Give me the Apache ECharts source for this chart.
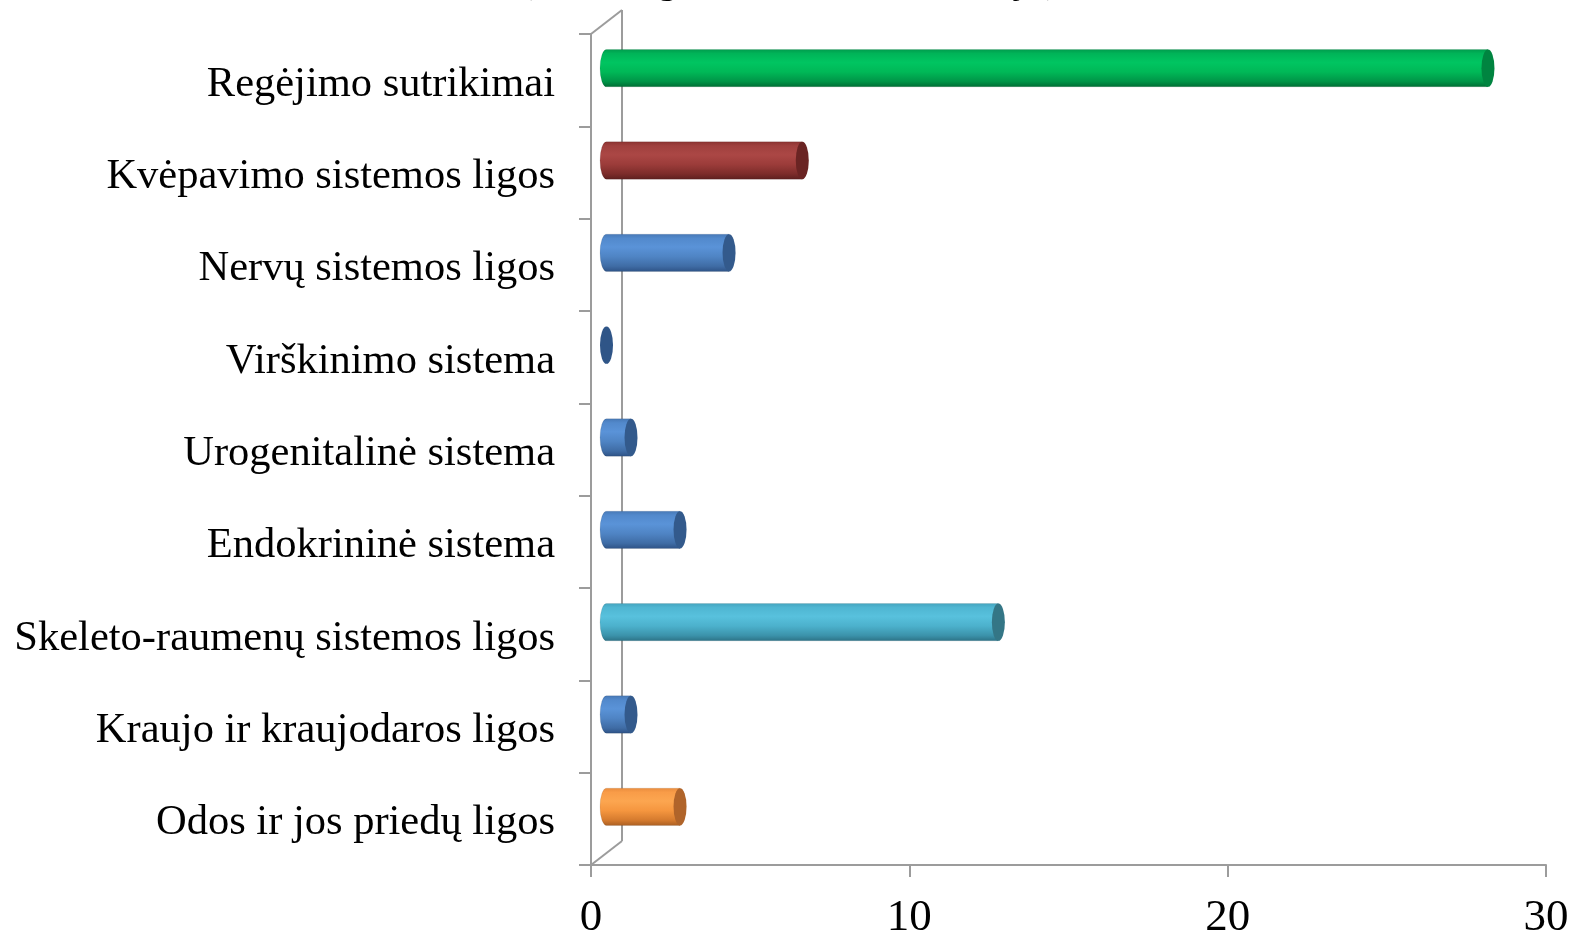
<!DOCTYPE html>
<html>
<head>
<meta charset="utf-8">
<script src="https://cdn.jsdelivr.net/npm/echarts@6/dist/echarts.min.js"></script>
<style>
html,body{margin:0;padding:0;background:#fff;}
#chart{width:1579px;height:932px;}
</style>
</head>
<body>
<div id="chart"></div>
<script>
// ---- data ----
const categories = [
  'Regėjimo sutrikimai',
  'Kvėpavimo sistemos ligos',
  'Nervų sistemos ligos',
  'Virškinimo sistema',
  'Urogenitalinė sistema',
  'Endokrininė sistema',
  'Skeleto-raumenų sistemos ligos',
  'Kraujo ir kraujodaros ligos',
  'Odos ir jos priedų ligos'
];
const values = [27.69, 6.15, 3.85, 0, 0.77, 2.31, 12.31, 0.77, 2.31];
const xTicks = [0, 10, 20, 30];
const titleText = '(vaikų ligos ir sutrikimai, atvejų)';

// ---- styles ----
const palettes = {
  green:  {stops:['#009a4c','#00b458','#00c561','#00b857','#009447','#006a32'], cap:'#008440'},
  red:    {stops:['#8a3230','#a0403e','#ab4745','#9c3c3a','#7c2c2a','#5c1f1e'], cap:'#6a2423'},
  blue:   {stops:['#4677b4','#5289cc','#5a93d8','#4f84c4','#3f6ca5','#2d5184'], cap:'#335a8c'},
  dblue:  {stops:['#2f5587','#2f5587','#2f5587','#2f5587','#2f5587','#2f5587'], cap:'#2f5587'},
  cyan:   {stops:['#43a3bd','#4fb6d2','#58c1dd','#4cb1cc','#3b92aa','#2b7084'], cap:'#347686'},
  orange: {stops:['#e88a3c','#f99c48','#fca650','#f5963f','#d47a2e','#a85d22'], cap:'#b0642a'}
};
const barPalette = ['green','red','blue','dblue','blue','blue','cyan','blue','orange'];

const W = 1579, H = 932;
const GRID = {left: 591, right: 33, top: 34, bottom: 67};
const DEPTH = {x: 31, y: 24};
const AXIS_COLOR = '#9c9c9c';
const SERIF = '"Liberation Serif", "Times New Roman", serif';

function grad(p) {
  const s = p.stops;
  return new echarts.graphic.LinearGradient(0, 0, 0, 1, [
    {offset: 0, color: s[0]}, {offset: 0.12, color: s[1]}, {offset: 0.35, color: s[2]},
    {offset: 0.6, color: s[3]}, {offset: 0.85, color: s[4]}, {offset: 1, color: s[5]}
  ]);
}

function renderItem(params, api) {
  const i = params.dataIndex;
  const v = api.value(0);
  const cat = api.value(1);
  const p0 = api.coord([0, cat]);
  const p1 = api.coord([v, cat]);
  const band = api.size([0, 1])[1];
  const h = band * 0.405;
  const dx = DEPTH.x / 2, dy = DEPTH.y / 2;
  const x0 = p0[0] + dx, x1 = p1[0] + dx, cy = p0[1] - dy;
  const rx = 6.5, ry = h / 2;
  const top = cy - ry, bot = cy + ry;
  const pal = palettes[barPalette[i]];
  const body = 'M' + x0 + ' ' + top + ' L' + x1 + ' ' + top + ' L' + x1 + ' ' + bot +
    ' L' + x0 + ' ' + bot + ' A' + rx + ' ' + ry + ' 0 0 1 ' + x0 + ' ' + top + ' Z';
  const cap = 'M' + (x1 - rx) + ' ' + cy + ' A' + rx + ' ' + ry + ' 0 1 0 ' + (x1 + rx) + ' ' + cy +
    ' A' + rx + ' ' + ry + ' 0 1 0 ' + (x1 - rx) + ' ' + cy + ' Z';
  const children = [];
  if (x1 - x0 > 0.5) {
    children.push({type: 'path', shape: {pathData: body}, style: {fill: grad(pal), stroke: 'rgba(0,0,0,0.08)', lineWidth: 1}});
  }
  children.push({type: 'path', shape: {pathData: cap}, style: {fill: pal.cap}});
  return {type: 'group', children: children};
}

const chart = echarts.init(document.getElementById('chart'), null, {renderer: 'canvas'});
const x0 = GRID.left, yTop = GRID.top, yBot = H - GRID.bottom;

chart.setOption({
  backgroundColor: '#fff',
  animation: false,
  title: {
    text: titleText, left: 'center', top: -44,
    textStyle: {fontFamily: SERIF, fontSize: 41, fontWeight: 'normal', color: '#000'}
  },
  grid: {left: GRID.left, right: GRID.right, top: GRID.top, bottom: GRID.bottom, containLabel: false, outerBoundsMode: 'none'},
  xAxis: {
    type: 'value', min: xTicks[0], max: xTicks[xTicks.length - 1], interval: 10,
    axisLine: {show: true, lineStyle: {color: AXIS_COLOR, width: 2}},
    axisTick: {show: true, length: 12, lineStyle: {color: AXIS_COLOR, width: 2}},
    splitLine: {show: false},
    axisLabel: {fontFamily: SERIF, fontSize: 45, color: '#000', margin: 31}
  },
  yAxis: {
    type: 'category', data: categories, inverse: true,
    axisLine: {show: true, lineStyle: {color: AXIS_COLOR, width: 2}},
    axisTick: {show: true, length: 12, lineStyle: {color: AXIS_COLOR, width: 2}},
    splitLine: {show: false},
    axisLabel: {
      margin: 36,
      formatter: function (v) { return '{c|' + v + '}'; },
      rich: {c: {fontFamily: SERIF, fontSize: 42.5, color: '#000', lineHeight: 50, padding: [9, 0, 0, 0]}}
    }
  },
  graphic: [
    {type: 'line', z: 1, shape: {x1: x0 + DEPTH.x, y1: yTop - DEPTH.y, x2: x0 + DEPTH.x, y2: yBot - DEPTH.y}, style: {stroke: AXIS_COLOR, lineWidth: 2}},
    {type: 'line', z: 1, shape: {x1: x0, y1: yTop, x2: x0 + DEPTH.x, y2: yTop - DEPTH.y}, style: {stroke: AXIS_COLOR, lineWidth: 2}},
    {type: 'line', z: 1, shape: {x1: x0, y1: yBot, x2: x0 + DEPTH.x, y2: yBot - DEPTH.y}, style: {stroke: AXIS_COLOR, lineWidth: 2}}
  ],
  series: [{
    type: 'custom', z: 5,
    renderItem: renderItem,
    encode: {x: 0, y: 1},
    data: values.map((v, i) => [v, i])
  }]
});
</script>
</body>
</html>
